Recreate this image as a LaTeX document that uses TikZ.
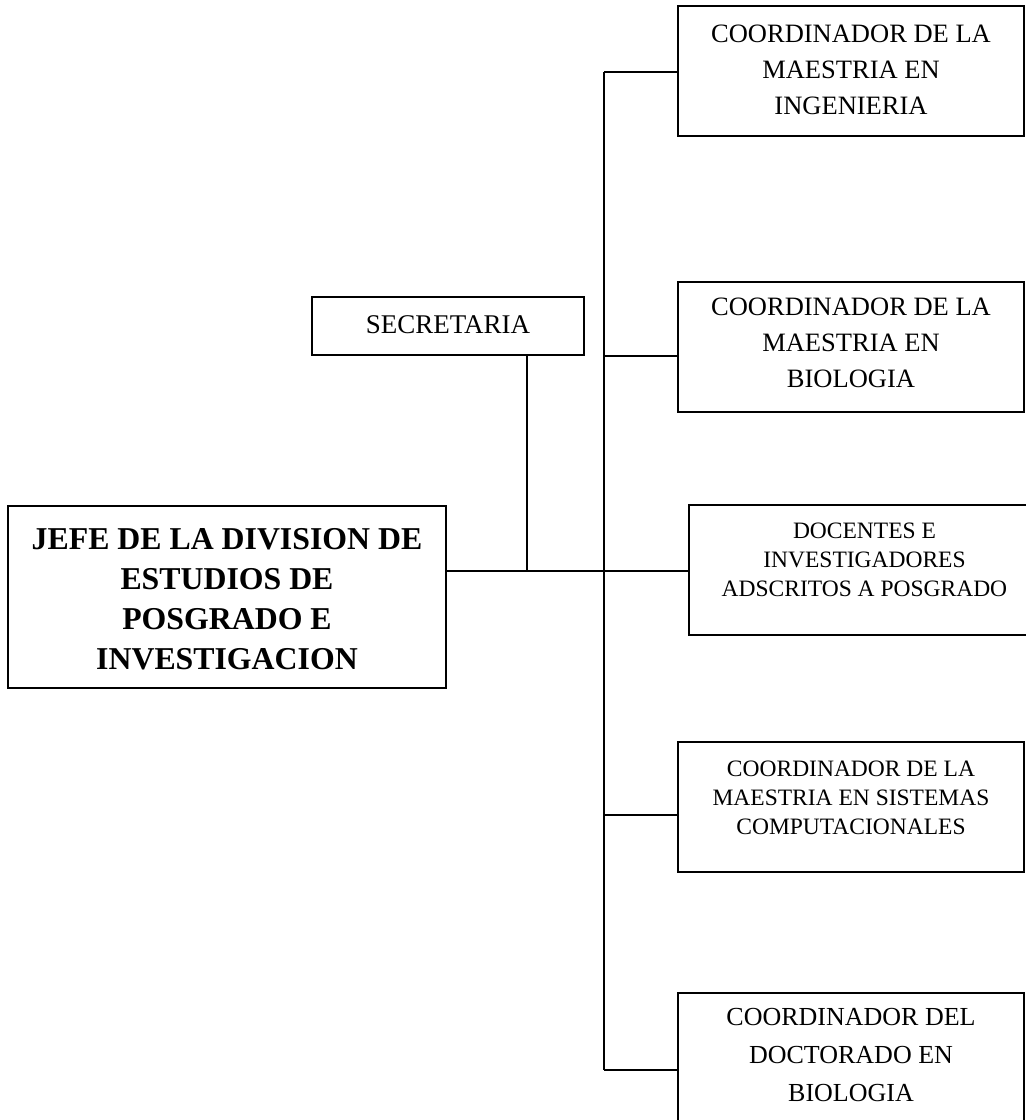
\documentclass[tikz,border=0pt]{standalone}
\usepackage{fontspec}
\setmainfont{Liberation Serif}
\begin{document}
\begin{tikzpicture}[x=1pt,y=-1pt,
  box/.style={draw,line width=1.7pt,rectangle,inner sep=0pt},
  txt/.style={align=center,inner sep=0pt},
  big/.style={font=\fontsize{26.5}{36}\selectfont},
  small/.style={font=\fontsize{23.5}{29}\selectfont},
  link/.style={line width=1.6pt}]
\useasboundingbox (0,0) rectangle (1026,1120);
\clip (0,0) rectangle (1026,1120);
\fill[white] (0,0) rectangle (1026,1120);

% head of the division
\node[box,minimum width=438,minimum height=182] (jefe) at (227,597) {};
\node[txt,font=\bfseries\fontsize{31.8}{40}\selectfont] (jefet) at ([yshift=-2pt]jefe.center)
  {JEFE DE LA DIVISION DE\\ESTUDIOS DE\\POSGRADO E\\INVESTIGACION};

% secretary
\node[box,minimum width=272,minimum height=58] (sec) at (448,326) {};
\node[txt,font=\fontsize{27}{32}\selectfont] (sect) at ([yshift=1pt]sec.center) {SECRETARIA};

% coordinators and staff
\node[box,minimum width=346,minimum height=130] (b1) at (851,71) {};
\node[txt,big] (b1t) at ([yshift=1pt]b1.center) {COORDINADOR DE LA\\MAESTRIA EN\\INGENIERIA};

\node[box,minimum width=346,minimum height=130] (b2) at (851,347) {};
\node[txt,big] (b2t) at ([yshift=4pt]b2.center) {COORDINADOR DE LA\\MAESTRIA EN\\BIOLOGIA};

\node[box,minimum width=351,minimum height=130] (b3) at (864.5,570) {};
\node[txt,small] (b3t) at ([yshift=10pt]b3.center) {DOCENTES E\\INVESTIGADORES\\ADSCRITOS A POSGRADO};

\node[box,minimum width=346,minimum height=130] (b4) at (851,807) {};
\node[txt,small] (b4t) at ([yshift=9pt]b4.center) {COORDINADOR DE LA\\MAESTRIA EN SISTEMAS\\COMPUTACIONALES};

\node[box,minimum width=346,minimum height=134] (b5) at (851,1060) {};
\node[txt,font=\fontsize{26}{38}\selectfont] (b5t) at ([yshift=5pt]b5.center) {COORDINADOR DEL\\DOCTORADO EN\\BIOLOGIA};

% junctions on the vertical bus
\coordinate (j1) at (604,72);
\coordinate (j2) at (604,356);
\coordinate (j3) at (604,571);
\coordinate (j4) at (604,815);
\coordinate (j5) at (604,1070);
\coordinate (s) at (527,571);

% connectors
\draw[link] (j1) -- (j5);
\draw[link] (j1) -- (j1 -| b1.west);
\draw[link] (j2) -- (j2 -| b2.west);
\draw[link] (jefe.east |- j3) -- (j3 -| b3.west);
\draw[link] (j4) -- (j4 -| b4.west);
\draw[link] (j5) -- (j5 -| b5.west);
\draw[link] (s) -- (s |- sec.south);
\end{tikzpicture}
\end{document}
